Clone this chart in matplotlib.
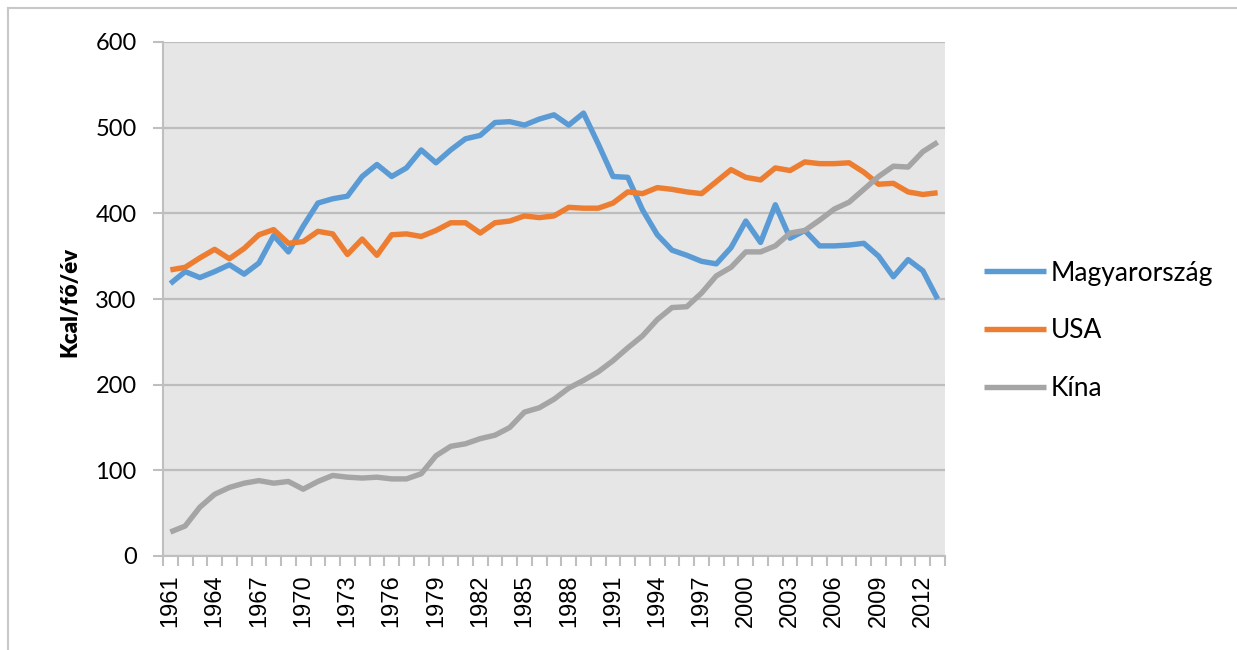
import matplotlib
matplotlib.use("Agg")
import matplotlib.pyplot as plt
from matplotlib.lines import Line2D
import numpy as np

years = list(range(1961, 2014))

magyarorszag = [318, 332, 325, 332, 340, 329, 342, 374, 355, 385,
                412, 417, 420, 443, 457, 443, 453, 474, 459, 474,
                487, 491, 506, 507, 503, 510, 515, 503, 517, 481,
                443, 442, 404, 375, 357, 351, 344, 341, 360, 391,
                366, 410, 371, 380, 362, 362, 363, 365, 350, 326,
                346, 333, 300]

usa = [334, 337, 348, 358, 347, 359, 375, 381, 365, 367,
       379, 376, 352, 370, 351, 375, 376, 373, 380, 389,
       389, 377, 389, 391, 397, 395, 397, 407, 406, 406,
       412, 425, 423, 430, 428, 425, 423, 437, 451, 442,
       439, 453, 450, 460, 458, 458, 459, 448, 434, 435,
       425, 422, 424]

kina = [28, 35, 57, 72, 80, 85, 88, 85, 87, 78,
        87, 94, 92, 91, 92, 90, 90, 96, 117, 128,
        131, 137, 141, 150, 168, 173, 183, 196, 205, 215,
        228, 243, 257, 276, 290, 291, 307, 327, 337, 355,
        355, 362, 377, 380, 392, 405, 413, 428, 443, 455,
        454, 472, 483]

series_names = ["Magyarország", "USA", "Kína"]
colors = ["#5B9BD5", "#ED7D31", "#A5A5A5"]
y_ticks = [0, 100, 200, 300, 400, 500, 600]
x_label_years = list(range(1961, 2014, 3))
y_label = "Kcal/fő/év"

W, H = 1237, 650
fig = plt.figure(figsize=(W / 100, H / 100), dpi=100)
ax = fig.add_axes([163 / W, 1 - 556 / H, (945 - 163) / W, (556 - 42) / H])
ax.set_facecolor("#E6E6E6")

for data, name, c in zip([magyarorszag, usa, kina], series_names, colors):
    ax.plot(years, data, color=c, lw=3.9, label=name, solid_capstyle="butt",
            solid_joinstyle="round", zorder=3)

ax.set_xlim(1960.5, 2013.5)
ax.set_ylim(0, 600)
ax.set_yticks(y_ticks)
ax.set_yticklabels([str(v) for v in y_ticks], fontsize=17, family="Lato")
ax.yaxis.grid(True, color="#BDBDBD", lw=1.6, zorder=1)
ax.set_axisbelow(True)

ax.set_xticks(x_label_years)
ax.set_xticklabels([str(y) for y in x_label_years], rotation=90,
                   fontsize=17, family="Liberation Sans")
ax.set_xticks(np.arange(1960.5, 2014, 1.0), minor=True)
ax.tick_params(axis="x", which="major", length=0, pad=13)
ax.tick_params(axis="x", which="minor", length=7, width=1.5, color="#BFBFBF",
               direction="out")
ax.tick_params(axis="y", which="major", length=7, width=1.5, color="#BFBFBF",
               pad=12)

for s in ["top", "right"]:
    ax.spines[s].set_visible(False)
ax.spines["left"].set_color("#BFBFBF")
ax.spines["left"].set_linewidth(1.5)
ax.spines["bottom"].set_color("#BFBFBF")
ax.spines["bottom"].set_linewidth(1.5)

fig.text(70 / W, 1 - 302 / H, y_label, rotation=90, ha="center", va="center",
         fontsize=16, fontweight="heavy", family="Lato")

leg = ax.legend(loc="center left", bbox_to_anchor=(960 / W, 1 - 331 / H),
                bbox_transform=fig.transFigure, frameon=False,
                prop={"family": "Lato", "size": 19}, handlelength=2.35,
                handletextpad=0.2, labelspacing=1.25)

# figure border
fig.add_artist(Line2D([8 / W, 1.01], [1 - 8 / H, 1 - 8 / H], color="#C8C8C8",
                      lw=1.5, transform=fig.transFigure))
fig.add_artist(Line2D([8 / W, 8 / W], [1 - 8 / H, -0.01], color="#C8C8C8",
                      lw=1.5, transform=fig.transFigure))

fig.savefig("out.png", dpi=100)
